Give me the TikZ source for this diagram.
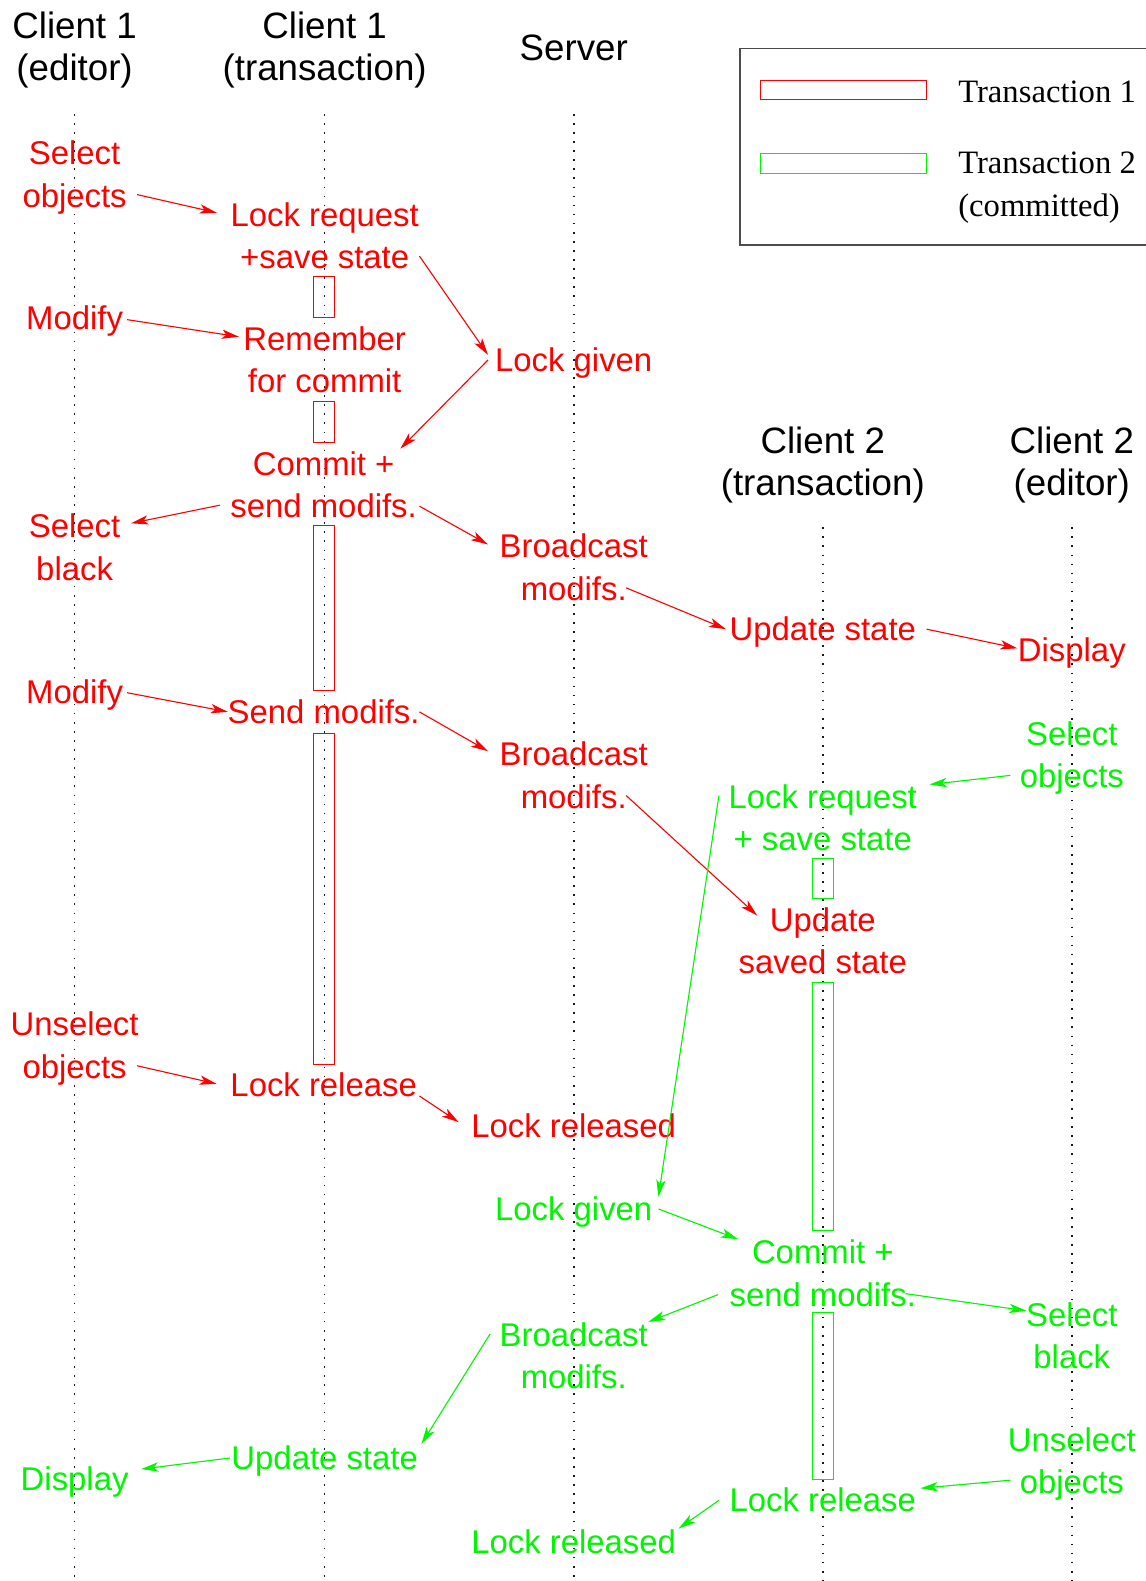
\documentclass[tikz,border=0pt]{standalone}
\usepackage{fontspec}
\setmainfont{Liberation Serif}
\setsansfont{Liberation Sans}
\usetikzlibrary{arrows.meta}
\definecolor{tred}{RGB}{255,0,0}
\definecolor{tgrn}{RGB}{0,245,0}
\newcommand\topstrut{\rule{0pt}{16.2pt}}
\newcommand\botstrut{\rule[-4.8pt]{0pt}{4.8pt}}
\newcommand\twol[2]{\strut#1\\#2}
\begin{document}
\begin{tikzpicture}[x=0.5pt,y=-0.5pt,
  lbl/.style={font=\sffamily\fontsize{16.3}{21}\selectfont, align=center, inner sep=0pt,
    execute at begin node=\topstrut, execute at end node=\botstrut},
  two/.style={yshift=-2pt, execute at end node={\rule[-6.3pt]{0pt}{0pt}}},
  redlbl/.style={lbl,text=tred},
  grnlbl/.style={lbl,text=tgrn},
  hdr/.style={font=\sffamily\fontsize{18.2}{21}\selectfont, align=center, inner sep=0pt,
    yshift=-3pt, execute at begin node=\strut, execute at end node=\strut},
  life/.style={draw=black!90, line width=0.8pt, dash pattern=on 0.8pt off 3.7pt},
  actred/.style={draw=tred, line width=0.5pt},
  actgrn/.style={draw=tgrn, line width=0.5pt},
  arr/.style={-{Stealth[length=8.5pt,width=4.6pt,inset=2.2pt]}, line width=0.55pt},
  legtxt/.style={font=\rmfamily\fontsize{16.2}{21}\selectfont, align=left, inner sep=0pt, anchor=west,
    execute at begin node=\strut, execute at end node=\strut}
]
\useasboundingbox (0,0) rectangle (1136,1568);

% headers
\node[hdr] (h1) at (74,46) {Client 1\\(editor)};
\node[hdr] (h2) at (322,46) {Client 1\\(transaction)};
\node[hdr] (h3) at (569,46) {Server};
\node[hdr] (h4) at (816,458) {Client 2\\(transaction)};
\node[hdr] (h5) at (1063,458) {Client 2\\(editor)};

% lifelines
\draw[life] (74,113) -- (74,1568);
\draw[life] (322,113) -- (322,1568);
\draw[life] (569,113) -- (569,1568);
\draw[life] (816,523) -- (816,1568);
\draw[life] (1063,523) -- (1063,1568);

% legend
\draw[draw=black!70, line width=0.7pt] (1140,48) -- (734,48) -- (734,243) -- (1140,243);
\draw[actred] (754,80) rectangle (919,99);
\draw[actgrn] (754,152) rectangle (919,172);
\node[legtxt] (l1) at (950,93) {Transaction 1};
\node[legtxt] (l2) at (950,189) {Transaction 2\\(committed)};

% activation boxes
\draw[actred] (311,274) rectangle (332,315);
\draw[actred] (311,398) rectangle (332,439);
\draw[actred] (311,521) rectangle (332,685);
\draw[actred] (311,727) rectangle (332,1056);
\draw[actgrn] (806,851) rectangle (827,891);
\draw[actgrn] (806,974) rectangle (827,1220);
\draw[actgrn] (806,1302) rectangle (827,1467);

% red labels
\node[redlbl,two] (selA) at (74,172) {\twol{Select}{objects}};
\node[redlbl,two] (lockreqA) at (322,233) {\twol{Lock request}{+save state}};
\node[redlbl] (modA1) at (74,315) {Modify};
\node[redlbl,two] (remA) at (322,356) {\twol{Remember}{for commit}};
\node[redlbl] (lgA) at (569,357) {Lock given};
\node[redlbl,two] (commitA) at (321,480) {\twol{Commit +}{send modifs.}};
\node[redlbl,two] (selblackA) at (74,542) {\twol{Select}{black}};
\node[redlbl,two] (bcA1) at (569,562) {\twol{Broadcast}{modifs.}};
\node[redlbl] (updA) at (816,624) {Update state};
\node[redlbl] (dispA) at (1063,645) {Display};
\node[redlbl] (modA2) at (74,686) {Modify};
\node[redlbl] (sendA) at (321,706) {Send modifs.};
\node[redlbl,two] (bcA2) at (569,768) {\twol{Broadcast}{modifs.}};
\node[redlbl,two] (updsavA) at (816,932) {\twol{Update}{saved state}};
\node[redlbl,two] (unselA) at (74,1036) {\twol{Unselect}{objects}};
\node[redlbl] (lrA) at (321,1076) {Lock release};
\node[redlbl] (lrdA) at (569,1117) {Lock released};

% green labels
\node[grnlbl,two] (selB) at (1063,748) {\twol{Select}{objects}};
\node[grnlbl,two] (lockreqB) at (816,810) {\twol{Lock request}{+ save state}};
\node[grnlbl] (lgB) at (569,1199) {Lock given};
\node[grnlbl,two] (commitB) at (816,1262) {\twol{Commit +}{send modifs.}};
\node[grnlbl,two] (selblackB) at (1063,1324) {\twol{Select}{black}};
\node[grnlbl,two] (bcB) at (569,1344) {\twol{Broadcast}{modifs.}};
\node[grnlbl] (updB) at (322,1446) {Update state};
\node[grnlbl] (dispB) at (74,1467) {Display};
\node[grnlbl,two] (unselB) at (1063,1448) {\twol{Unselect}{objects}};
\node[grnlbl] (lrB) at (816,1488) {Lock release};
\node[grnlbl] (lrdB) at (569,1529) {Lock released};

% red arrows
\draw[arr,tred] ([shift={(62,17)}]selA.center) -- ([shift={(-107,-26)}]lockreqA.center);
\draw[arr,tred] ([shift={(94,17)}]lockreqA.center) -- ([shift={(-85,-5)}]lgA.center);
\draw[arr,tred] ([shift={(52,2)}]modA1.center) -- ([shift={(-85,-26)}]remA.center);
\draw[arr,tred] ([shift={(-85,0)}]lgA.center) -- ([shift={(76,-39)}]commitA.center);
\draw[arr,tred] ([shift={(-103,17)}]commitA.center) -- ([shift={(56,-27)}]selblackA.center);
\draw[arr,tred] ([shift={(95,18)}]commitA.center) -- ([shift={(-85,-26)}]bcA1.center);
\draw[arr,tred] ([shift={(52,17)}]bcA1.center) -- ([shift={(-96,0)}]updA.center);
\draw[arr,tred] ([shift={(103,0)}]updA.center) -- ([shift={(-54,-2)}]dispA.center);
\draw[arr,tred] ([shift={(52,1)}]modA2.center) -- ([shift={(-95,0)}]sendA.center);
\draw[arr,tred] ([shift={(95,0)}]sendA.center) -- ([shift={(-85,-27)}]bcA2.center);
\draw[arr,tred] ([shift={(52,17)}]bcA2.center) -- ([shift={(-65,-28)}]updsavA.center);
\draw[arr,tred] ([shift={(62,17)}]unselA.center) -- ([shift={(-106,-1)}]lrA.center);
\draw[arr,tred] ([shift={(95,11)}]lrA.center) -- ([shift={(-114,-4)}]lrdA.center);

% green arrows
\draw[arr,tgrn] ([shift={(-61,17)}]selB.center) -- ([shift={(106,-36)}]lockreqB.center);
\draw[arr,tgrn] ([shift={(-103,-25)}]lockreqB.center) -- ([shift={(84,-12)}]lgB.center);
\draw[arr,tgrn] ([shift={(84,0)}]lgB.center) -- ([shift={(-84,-37)}]commitB.center);
\draw[arr,tgrn] ([shift={(-104,18)}]commitB.center) -- ([shift={(74,-37)}]bcB.center);
\draw[arr,tgrn] ([shift={(82,17)}]commitB.center) -- ([shift={(-45,-28)}]selblackB.center);
\draw[arr,tgrn] ([shift={(-83,-25)}]bcB.center) -- ([shift={(96,-14)}]updB.center);
\draw[arr,tgrn] ([shift={(-94,0)}]updB.center) -- ([shift={(66,-10)}]dispB.center);
\draw[arr,tgrn] ([shift={(-61,16)}]unselB.center) -- ([shift={(97,-12)}]lrB.center);
\draw[arr,tgrn] ([shift={(-103,0)}]lrB.center) -- ([shift={(104,-13)}]lrdB.center);
\end{tikzpicture}
\end{document}
